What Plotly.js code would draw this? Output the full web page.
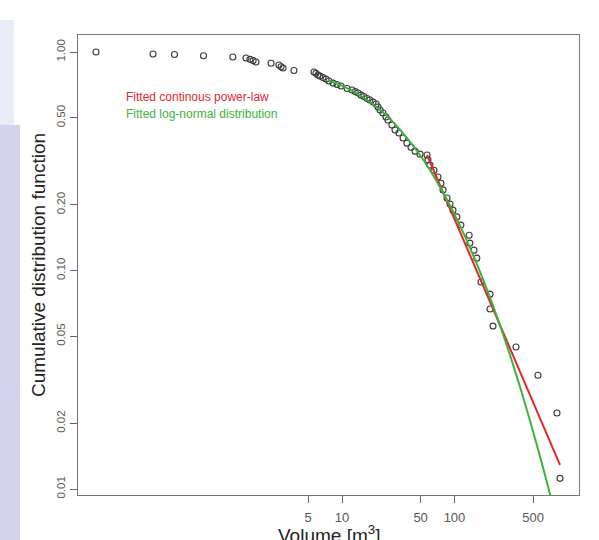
<!DOCTYPE html>
<html>
<head>
<meta charset="utf-8">
<script src="https://cdn.plot.ly/plotly-3.0.1.min.js"></script>
<style>
html,body{margin:0;padding:0;background:#fff;}
#chart{width:599px;height:540px;}
</style>
</head>
<body>
<div id="chart"></div>
<script>
// Observed landslide volumes [m^3] and empirical CCDF values
const volume = [0.065,0.209,0.324,0.587,1.07,1.40,1.52,1.62,1.72,2.34,2.75,2.87,2.99,3.74,
  5.64,5.87,6.12,6.37,6.78,7.21,7.66,8.32,9.03,9.80,11.1,12.3,13.1,13.9,14.8,15.7,16.7,17.7,18.9,20.1,
  20.9,21.8,23.1,24.6,25.6,27.8,29.6,32.1,34.9,37.8,41.1,44.6,49.4,57.0,58.1,60.5,65.7,71.3,75.9,79.1,
  85.8,91.2,97.0,105,114,135,137,149,158,172,207,207,220,352,552,815,867];
const ccdf = [1.00,0.979,0.974,0.962,0.949,0.939,0.926,0.914,0.900,0.888,0.872,0.856,0.845,0.823,
  0.810,0.799,0.785,0.776,0.764,0.752,0.737,0.721,0.710,0.699,0.681,0.670,0.659,0.649,0.635,0.626,0.613,0.603,0.590,0.578,
  0.560,0.543,0.526,0.504,0.489,0.463,0.440,0.426,0.404,0.383,0.367,0.352,0.341,0.338,0.321,0.304,0.288,0.268,0.251,0.234,
  0.215,0.2015,0.189,0.176,0.1615,0.145,0.1336,0.124,0.114,0.0886,0.078,0.0667,0.0557,0.0447,0.0332,0.0223,0.0112];

// Fitted continuous power-law
const powerX = [57.0, 867];
const powerY = [0.338, 0.0129];

// Fitted log-normal distribution
const lognX = [7.51,9.60,13.05,17.74,24.11,32.78,49.36,74.3,111.9,168.5,253.8,382.1,575.4,706.3,782];
const lognY = [0.7445,0.7076,0.6546,0.5909,0.5191,0.4417,0.3378,0.2413,0.1605,0.0989,0.0562,0.0294,0.01413,0.00948,0.0077];

const xTicks = [5,10,50,100,500];
const yTicks = [1.00,0.50,0.20,0.10,0.05,0.02,0.01];
const yTickText = ['1.00','0.50','0.20','0.10','0.05','0.02','0.01'];

const xTitle = 'Volume [m<sup>3</sup>]';
const yTitle = 'Cumulative distribution function';
const legendLabels = ['Fitted continous power-law','Fitted log-normal distribution'];
const redCol = '#e0262e';
const greenCol = '#3cb43c';

const FONT = 'Liberation Sans, Arial, Helvetica, sans-serif';

const traces = [
  {x: volume, y: ccdf, type:'scatter', mode:'markers',
   marker:{symbol:'circle-open', size:6, color:'#3a3a3a', line:{width:1.1}}},
  {x: powerX, y: powerY, type:'scatter', mode:'lines', line:{color:redCol, width:2}},
  {x: lognX, y: lognY, type:'scatter', mode:'lines', line:{color:greenCol, width:2, shape:'spline', smoothing:1}}
];

const W = 501;
function px(p){ return (p-78)/W; }
const Hh = 460;
function py(p){ return (495-p)/Hh; }

const layout = {
  width:599, height:540,
  margin:{l:78, r:20, t:35, b:45},
  paper_bgcolor:'#fff', plot_bgcolor:'#fff',
  showlegend:false,
  font:{family:FONT, color:'#333'},
  xaxis:{type:'log', range:[-1.347, 3.107], tickvals:xTicks, ticktext:xTicks.map(String),
    ticks:'outside', ticklen:7, tickcolor:'#666', tickwidth:1, ticklabelstandoff:3,
    showline:true, linecolor:'#777', linewidth:1.2, mirror:true, showgrid:false, zeroline:false,
    tickfont:{size:13, color:'#555', family:FONT}},
  yaxis:{type:'log', range:[-2.027, 0.078], tickvals:yTicks, ticktext:yTickText,
    ticks:'outside', ticklen:7, tickcolor:'#666', tickwidth:1, tickangle:-90,
    showline:true, linecolor:'#777', linewidth:1.2, mirror:true, showgrid:false, zeroline:false,
    tickfont:{size:11.5, color:'#555', family:FONT},
    title:{text:yTitle, font:{size:19, color:'#222', family:FONT}, standoff:4}},
  annotations:[
    {xref:'paper', yref:'paper', x:px(329), y:py(520), xanchor:'center', yanchor:'top', showarrow:false,
     text:xTitle, font:{size:19, color:'#222', family:FONT}},
    {xref:'paper', yref:'paper', x:px(124), y:py(97), xanchor:'left', yanchor:'middle', showarrow:false,
     text:legendLabels[0], font:{size:12, color:redCol, family:FONT}},
    {xref:'paper', yref:'paper', x:px(124), y:py(114), xanchor:'left', yanchor:'middle', showarrow:false,
     text:legendLabels[1], font:{size:12, color:greenCol, family:FONT}}
  ],
  shapes:[
    {type:'rect', xref:'paper', yref:'paper', x0:px(0), x1:px(20), y0:py(540), y1:py(125),
     fillcolor:'rgba(175,175,225,0.55)', line:{width:0}, layer:'below'},
    {type:'rect', xref:'paper', yref:'paper', x0:px(0), x1:px(14), y0:py(125), y1:py(20),
     fillcolor:'rgba(190,200,235,0.35)', line:{width:0}, layer:'below'}
  ]
};

Plotly.newPlot('chart', traces, layout, {staticPlot:true, displayModeBar:false});
</script>
</body>
</html>
